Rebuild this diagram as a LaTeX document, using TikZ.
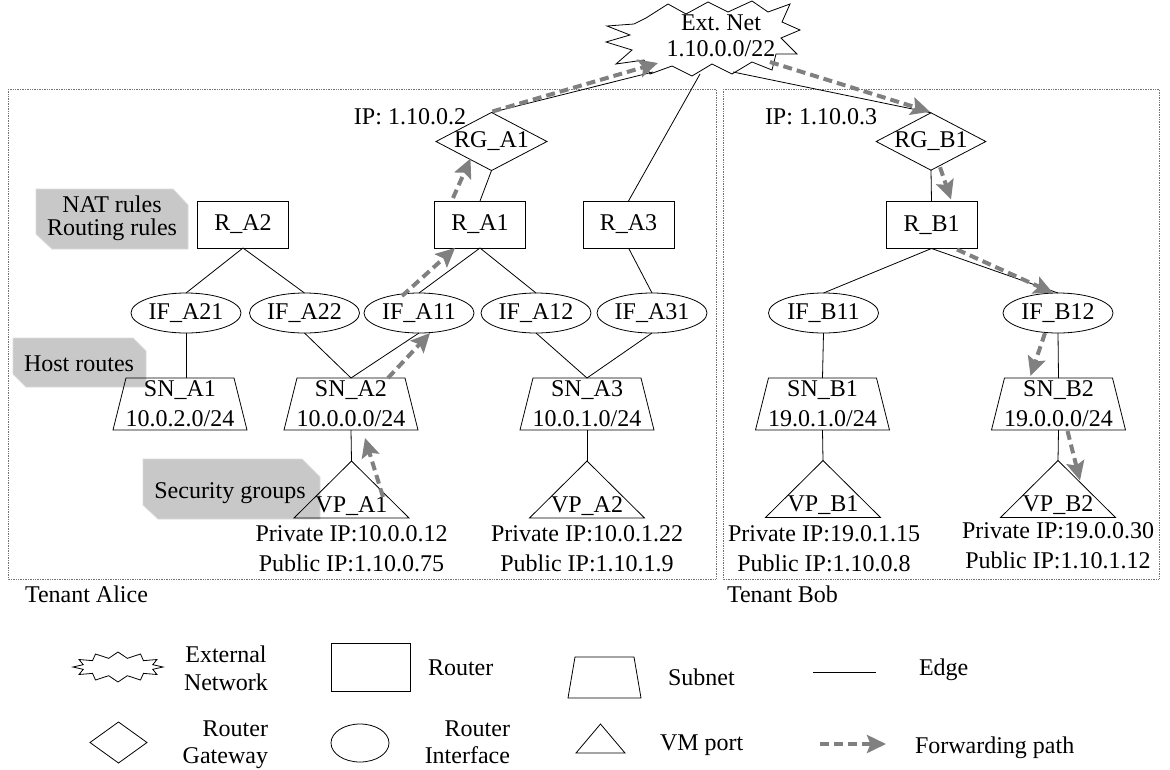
\documentclass[tikz,border=0pt]{standalone}
\usepackage{fontspec}
\setmainfont{Liberation Serif}
\usetikzlibrary{shapes.geometric,arrows.meta,calc}
\definecolor{fwdgray}{RGB}{128,128,128}
\definecolor{notegray}{RGB}{200,200,200}
% starburst outline: centre, outer radii, inner radii, last vertex index (2n-1)
\newcommand\burst[6]{%
  \begin{scope}[shift={(#1)}]
    \draw[line width=0.8pt] plot[samples at={0,...,#6}, variable=\k]
      ({\k*360/(#6+1)}:{ifthenelse(mod(\k,2)==0,#2,#4)} and {ifthenelse(mod(\k,2)==0,#3,#5)}) -- cycle;
  \end{scope}}
% subnet outline (narrow top) inside a rectangular node
\newcommand\trap[2]{\draw[line width=0.8pt] (#1.south west) -- ([xshift=#2pt]#1.north west) -- ([xshift=-#2pt]#1.north east) -- (#1.south east) -- cycle;}
% VM port outline inside a rectangular node
\newcommand\tri[1]{\draw[line width=0.8pt] (#1.south west) -- (#1.north) -- (#1.south east) -- cycle;}
\begin{document}
\begin{tikzpicture}[x=1pt,y=-1pt,
  every node/.style={font=\fontsize{24}{29}\selectfont, inner sep=0pt, outer sep=0pt},
  link/.style={line width=0.8pt},
  fwd/.style={draw=fwdgray, line width=4pt, dash pattern=on 9pt off 5pt, -{Stealth[length=19pt,width=18pt,inset=3.5pt]}},
  router/.style={draw, line width=0.8pt, rectangle, minimum width=91pt, minimum height=47pt},
  iface/.style={draw, line width=0.8pt, ellipse, minimum width=110pt, minimum height=40pt},
  gateway/.style={draw, line width=0.8pt, diamond, aspect=1.91, minimum width=109pt, minimum height=57pt},
  subnet/.style={rectangle, minimum width=134pt, minimum height=52pt, align=center, font=\fontsize{24}{30}\selectfont},
  vmport/.style={rectangle, minimum width=115pt, minimum height=57pt, text height=45pt, text depth=0pt, inner ysep=6pt},
  addr/.style={anchor=north, align=center, font=\fontsize{24}{30}\selectfont},
  tenant/.style={draw=black!55, densely dotted, line width=0.7pt},
  note/.style={fill=notegray, draw=notegray!70, line width=0.8pt},
]
\useasboundingbox (0,0) rectangle (1170,769);

% tenant areas
\draw[tenant] (8,89) rectangle (716,579);
\draw[tenant] (723,89) rectangle (1159,579);
\node[anchor=base west] (alice) at (25,602) {Tenant Alice};
\node[anchor=base west] (bob) at (727,602) {Tenant Bob};

% call-outs
\draw[note] (36,189) -- (173,189) -- (188,205) -- (188,249) -- (52,249) -- (36,234) -- cycle;
\node[align=center, font=\fontsize{24}{23}\selectfont] (natnote) at (112,218) {NAT rules\\Routing rules};
\draw[note] (13,338) -- (133,338) -- (146,351) -- (146,387) -- (26,387) -- (13,374) -- cycle;
\node[anchor=base] (hostnote) at (79,371) {Host routes};
\draw[note] (143,459) -- (302,459) -- (320,477) -- (320,519) -- (158,519) -- (143,505) -- cycle;
\node[anchor=base] (secnote) at (230,498) {Security groups};

% external network: label and explosion outline around it
\node[align=center, font=\fontsize{24}{26}\selectfont] (ext) at (721,36) {Ext.\ Net\\1.10.0.0/22};
\begin{scope}[shift={(ext.center)}]
  \draw[line width=0.8pt] (-75,-18) -- (-53,-32) -- (-35,-22) -- (-13,-34) -- (7,-24) -- (31,-35)
    -- (47,-24) -- (69,-32) -- (61,-14) -- (79,-6) -- (60,2) -- (76,18) -- (55,18) -- (51,34)
    -- (31,26) -- (11,38) -- (-9,28) -- (-29,40) -- (-49,30) -- (-71,38) -- (-77,24) -- (-105,28)
    -- (-89,14) -- (-115,6) -- (-91,-1) -- (-114,-10) -- (-87,-12) -- cycle;
\end{scope}

% gateways and routers
\node[gateway] (RGA1) at (491.5,141.5) {RG\_A1};
\node[gateway] (RGB1) at (931,141.5) {RG\_B1};
\node[anchor=base east] (ipA) at (466,124) {IP: 1.10.0.2};
\node[anchor=base east] (ipB) at (877,124) {IP: 1.10.0.3};
\node[router] (RA2) at (243,224.5) {R\_A2};
\node[router] (RA1) at (480,224.5) {R\_A1};
\node[router] (RA3) at (628.5,224.5) {R\_A3};
\node[router] (RB1) at (931.5,225) {R\_B1};

% router interfaces
\node[iface] (IFA21) at (186,313) {IF\_A21};
\node[iface] (IFA22) at (304.5,313) {IF\_A22};
\node[iface] (IFA11) at (419,313) {IF\_A11};
\node[iface] (IFA12) at (536,313) {IF\_A12};
\node[iface] (IFA31) at (652,313) {IF\_A31};
\node[iface] (IFB11) at (823.5,313) {IF\_B11};
\node[iface] (IFB12) at (1058,313) {IF\_B12};

% subnets
\node[subnet] (SNA1) at (180,404) {SN\_A1\\10.0.2.0/24};
\node[subnet] (SNA2) at (351,404) {SN\_A2\\10.0.0.0/24};
\node[subnet] (SNA3) at (587,404) {SN\_A3\\10.0.1.0/24};
\node[subnet] (SNB1) at (822.5,404) {SN\_B1\\19.0.1.0/24};
\node[subnet] (SNB2) at (1058.5,404) {SN\_B2\\19.0.0.0/24};
\trap{SNA1}{13}\trap{SNA2}{13}\trap{SNA3}{13}\trap{SNB1}{13}\trap{SNB2}{13}

% VM ports
\node[vmport] (VPA1) at (351.5,489.5) {VP\_A1};
\node[vmport] (VPA2) at (587,489.5) {VP\_A2};
\node[vmport] (VPB1) at (823,489) {VP\_B1};
\node[vmport] (VPB2) at (1058,489) {VP\_B2};
\tri{VPA1}\tri{VPA2}\tri{VPB1}\tri{VPB2}
\node[addr] (adA1) at (351.5,525.6) {Private IP:10.0.0.12\\Public IP:1.10.0.75};
\node[addr] (adA2) at (587,525.6) {Private IP:10.0.1.22\\Public IP:1.10.1.9};
\node[addr] (adB1) at (824,525.6) {Private IP:19.0.1.15\\Public IP:1.10.0.8};
\node[addr] (adB2) at (1058,522.6) {Private IP:19.0.0.30\\Public IP:1.10.1.12};

% edges
\draw[link] (RGA1.north) -- ($(ext.center)+(-68,36)$);
\draw[link] (RA3.north) -- ($(ext.center)+(-21,38)$);
\draw[link] (RGB1.north) -- ($(ext.center)+(12,36)$);
\draw[link] (RGA1.south) -- (RA1.north);
\draw[link] (RGB1.south) -- (RB1.north);
\draw[link] (RA2.south) -- (IFA21.north);
\draw[link] (RA2.south) -- (IFA22.north);
\draw[link] (RA1.south) -- (IFA11.north);
\draw[link] (RA1.south) -- (IFA12.north);
\draw[link] (RA3.south) -- (IFA31.north);
\draw[link] (RB1.south) -- (IFB11.north);
\draw[link] (RB1.south) -- (IFB12.north);
\draw[link] (IFA21.south) -- (IFA21.south |- SNA1.north);
\draw[link] (IFA22.south) -- (SNA2.north);
\draw[link] (IFA11.south) -- (SNA2.north);
\draw[link] (IFA12.south) -- (SNA3.north);
\draw[link] (IFA31.south) -- (SNA3.north);
\draw[link] (IFB11.south) -- (SNB1.north);
\draw[link] (IFB12.south) -- (SNB2.north);
\draw[link] (SNA2.south) -- (VPA1.north);
\draw[link] (SNA3.south) -- (VPA2.north);
\draw[link] (SNB1.south) -- (VPB1.north);
\draw[link] (SNB2.south) -- (VPB2.north);

% forwarding path
\draw[fwd] ($(VPA1.north)+(31.5,36)$) -- ($(SNA2.south)+(14,8)$);
\draw[fwd] ($(SNA2.north)+(37,0)$) -- ($(IFA11.south)+(11,0)$);
\draw[fwd] ($(IFA11.north)+(-17,3)$) -- ($(RA1.south)+(-25,0)$);
\draw[fwd] ($(RA1.north)+(-27,-3)$) -- ($(RGA1.center)+(-21,17)$);
\draw[fwd] ($(RGA1.north)+(1,-1)$) -- ($(ext.center)+(-63,27)$);
\draw[fwd] ($(ext.center)+(49,26)$) -- ($(RGB1.north)+(-1,-1)$);
\draw[fwd] ($(RGB1.south)+(9,-3)$) -- ($(RB1.north)+(19.5,-2)$);
\draw[fwd] ($(RB1.south)+(25.5,1)$) -- ($(IFB12.north)+(-5,0)$);
\draw[fwd] ($(IFB12.south)+(-13,0)$) -- ($(SNB2.north)+(-28,-2)$);
\draw[fwd] ($(SNB2.south)+(9,1)$) -- ($(VPB2.north)+(22,20)$);

% legend
\node[minimum width=90pt, minimum height=30pt] (lgExt) at (118,667) {};
\burst{lgExt.center}{45}{15}{36}{9}{23}
\node[align=center, font=\fontsize{24}{28}\selectfont] (lgExtT) at (226,668) {External\\Network};
\node[draw, line width=0.8pt, minimum width=79pt, minimum height=48pt] (lgRouter) at (370.5,667) {};
\node[anchor=base west] (lgRouterT) at (428,675) {Router};
\node[minimum width=73pt, minimum height=41pt] (lgSubnet) at (604.5,677.5) {};
\trap{lgSubnet}{7}
\node[anchor=base west] (lgSubnetT) at (668,685) {Subnet};
\coordinate (lgE1) at (813,672);
\coordinate (lgE2) at (876,672);
\draw[link] (lgE1) -- (lgE2);
\node[anchor=base west] (lgEdgeT) at (919,675) {Edge};
\node[draw, line width=0.8pt, diamond, aspect=1.39, minimum width=57pt, minimum height=41pt] (lgGw) at (118.5,742.5) {};
\node[align=right, anchor=north east, font=\fontsize{24}{27}\selectfont] (lgGwT) at (268,721) {Router\\Gateway};
\node[draw, line width=0.8pt, ellipse, minimum width=58pt, minimum height=38pt] (lgIf) at (360,743) {};
\node[align=right, anchor=north east, font=\fontsize{24}{27}\selectfont] (lgIfT) at (510,721) {Router\\Interface};
\node[minimum width=49pt, minimum height=29pt] (lgVm) at (600.5,738.5) {};
\tri{lgVm}
\node[anchor=base west] (lgVmT) at (660,750) {VM port};
\coordinate (lgF1) at (820,744);
\coordinate (lgF2) at (886,744);
\draw[fwd] (lgF1) -- (lgF2);
\node[anchor=base west] (lgFwdT) at (915,753) {Forwarding path};
\end{tikzpicture}
\end{document}
